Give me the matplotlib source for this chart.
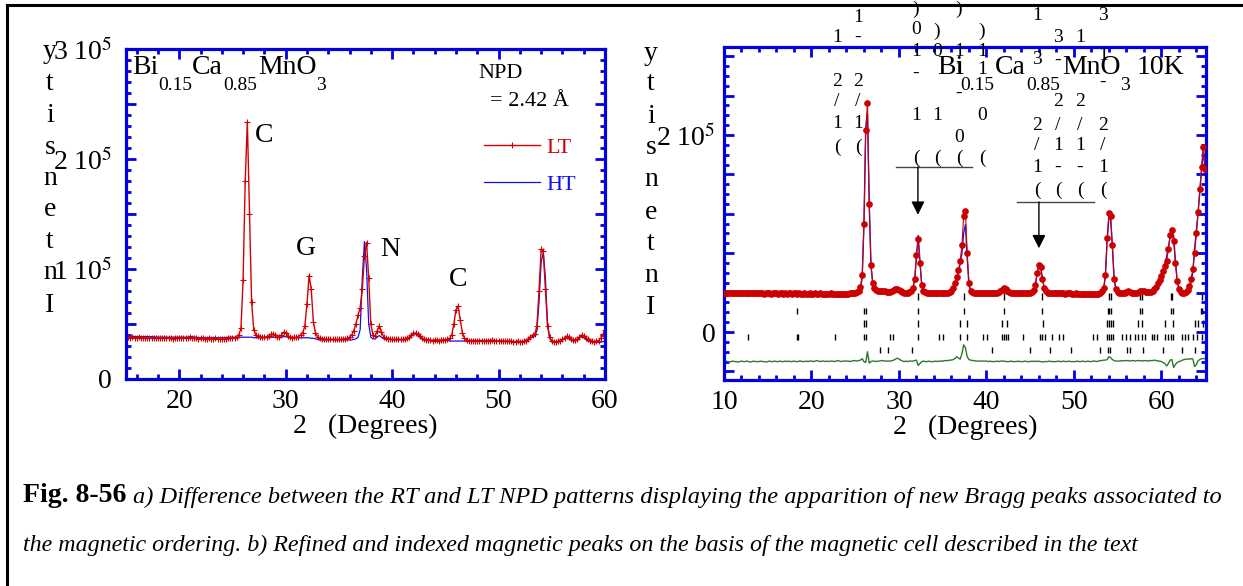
import numpy as np
import matplotlib
matplotlib.use('Agg')
import matplotlib.pyplot as plt
from matplotlib.lines import Line2D
from matplotlib.ticker import MultipleLocator, FixedLocator, FuncFormatter

plt.rcParams['font.family'] = ['Liberation Serif', 'DejaVu Serif']
plt.rcParams['mathtext.fontset'] = 'stix'

# ---- (a) LT / HT neutron patterns, counts in units of 1e3, 2theta step 0.2 deg ----
two_theta_a = np.linspace(15, 60, 226)
lt_counts = [
    38, 38, 37.5, 38, 37.5, 37.5, 38, 37.5, 37, 37.5,
    37.5, 37, 37.5, 37.5, 37, 37, 37.5, 37, 37, 37.5,
    37, 37, 36.5, 37, 37, 37.5, 37, 37, 37.5, 37.5,
    38, 37.5, 37, 37, 36.5, 37, 37, 36.5, 36.5, 37,
    36.5, 36.5, 37, 36.5, 36, 36.5, 36.5, 36.5, 37, 37,
    37, 37.5, 38, 40, 46, 90, 180, 234, 150, 70,
    45, 40, 39, 38.5, 38, 38, 38.5, 39, 40.5, 41,
    40, 38.5, 38, 40, 42.5, 42, 39.5, 38, 37.5, 38,
    38, 38.5, 40, 42, 48, 68, 94, 82, 52, 42,
    38.5, 37, 36.5, 36.5, 36, 36, 36.5, 36, 36, 36,
    36, 36, 36.5, 36.5, 37, 38, 40, 44, 50, 58,
    65, 82, 112, 124, 92, 50, 40, 39, 44, 48,
    43, 38.5, 37, 36.5, 36.5, 36, 36, 36, 36.5, 36,
    36, 36.5, 37, 38, 40, 41.5, 42, 41, 39, 37,
    36, 35.5, 35.5, 35.5, 35, 35.5, 35.5, 35, 35.5, 35.5,
    35.5, 36, 37, 40, 50, 63, 66, 54, 42, 37,
    35.5, 35, 35, 35, 35, 34.5, 35, 35, 34.5, 35,
    35, 35, 35.5, 35, 34.5, 34.5, 35, 34.5, 34.5, 34.5,
    34.5, 34.5, 34, 34, 34.5, 34, 34, 34.5, 35, 36.5,
    38.5, 40, 40.5, 48, 80, 118, 116, 82, 48, 38,
    35, 34, 34, 34.5, 35, 36, 37.5, 39, 38.5, 36.5,
    35.5, 35.5, 36.5, 38.5, 40, 39.5, 37.5, 36, 35, 34.5,
    34, 34.5, 35, 37, 40.5, 45,
]
ht_counts = [
    39, 39, 39, 39, 38.5, 38.5, 38.5, 38.5, 38.5, 38.5,
    38.5, 38.5, 38.5, 38.5, 38, 38, 38, 38, 38, 38,
    38, 38, 38, 38, 38, 38, 38, 38, 38, 38,
    38.5, 38.5, 38, 38, 37.5, 37.5, 37.5, 37.5, 37.5, 37.5,
    37.5, 37.5, 37.5, 37.5, 37.5, 37.5, 37.5, 37.5, 38, 38,
    38, 38, 38, 38, 38, 38, 38, 38, 38, 38,
    37.5, 37.5, 37.5, 37.5, 37.5, 37.5, 37.5, 37.5, 38, 38,
    38, 37.5, 37.5, 38, 38.5, 38.5, 38, 37.5, 37.5, 37.5,
    37.5, 37.5, 37.5, 37.5, 37.5, 37.5, 37.5, 37, 37, 36.5,
    36, 35.5, 35.5, 35.5, 35.5, 35.5, 35.5, 35.5, 35.5, 35.5,
    35.5, 35.5, 35.5, 35.5, 35.5, 35.5, 35.5, 36, 36.5, 38,
    45, 92, 125, 100, 50, 38, 36.5, 36.5, 38, 39.5,
    38, 36.5, 36, 36, 36, 35.5, 35.5, 35.5, 35.5, 35.5,
    35.5, 35.5, 36, 37, 39, 40.5, 41, 40, 38, 36.5,
    35.5, 35, 35, 35, 35, 35, 35, 35, 35, 35,
    35, 35, 34.5, 34.5, 34.5, 34.5, 34.5, 34.5, 34.5, 34.5,
    34.5, 34.5, 34.5, 34.5, 34.5, 34.5, 34.5, 34.5, 34.5, 34.5,
    34.5, 34.5, 34.5, 34.5, 34.5, 34.5, 34, 34, 34, 34,
    34, 34, 34, 34, 34, 34, 34, 34, 34.5, 35.5,
    37, 38.5, 39, 44, 70, 106, 115, 92, 50, 37,
    34, 33.5, 33.5, 34, 34.5, 35.5, 36.5, 37.5, 37, 35.5,
    34.5, 34.5, 35.5, 37.5, 38.5, 38, 36, 35, 34, 33.5,
    33.5, 33.5, 33.5, 33.5, 34, 34.5,
]
peak_tags = ['C', 'G', 'N', 'C']

# ---- (b) 10 K refinement: observed counts and residual (obs - calc), units of 1e3 ----
two_theta_b = np.linspace(10, 65, 276)
obs_counts = [
    40, 40, 39.5, 40, 40, 39.5, 40, 39.5, 39.5, 40,
    39.5, 40, 39.5, 39.5, 40, 39.5, 39.5, 39.5, 40, 39.5,
    39.5, 39.5, 39.5, 39, 39.5, 39.5, 39.5, 39, 39.5, 39.5,
    39.5, 39, 39.5, 39.5, 39, 39.5, 39, 39.5, 39.5, 39,
    39.5, 39.5, 39, 39.5, 39, 39, 39.5, 39, 39, 39.5,
    39, 39, 39.5, 39, 39, 39.5, 39, 39, 39, 39,
    39, 39.5, 39, 39, 39, 38.5, 39, 39, 39, 39,
    39, 39, 39.5, 39.5, 40, 40, 41, 42, 46, 58,
    110, 205, 232, 130, 68, 50, 45, 43, 42, 41.5,
    41.5, 42, 41.5, 41, 41, 41, 41.5, 42.5, 43.5, 44,
    43, 41.5, 40.5, 40, 40, 40, 40.5, 42, 45, 54,
    78, 94, 70, 48, 42, 40.5, 40, 39.5, 39.5, 39.5,
    39.5, 39.5, 39.5, 39.5, 39.5, 39.5, 39.5, 39.5, 40, 40.5,
    42, 45, 50, 56, 63, 72, 88, 118, 123, 80,
    50, 42, 40.5, 40, 39.5, 39.5, 39.5, 39.5, 39.5, 39.5,
    39.5, 39.5, 39.5, 39.5, 40, 40, 40, 40.5, 41.5, 43,
    44.5, 43.5, 41.5, 40.5, 40, 39.5, 39.5, 39.5, 39.5, 39.5,
    39.5, 39.5, 39.5, 39.5, 39.5, 40, 41, 43, 48, 60,
    68, 66, 54, 45, 41.5, 40, 39.5, 39.5, 39.5, 39.5,
    39.5, 39.5, 39.5, 39.5, 39.5, 39, 39.5, 39.5, 39.5, 39,
    39, 39.5, 39, 39, 39, 39, 39, 39, 38.5, 38.5,
    38.5, 38.5, 38.5, 38.5, 39, 40, 42, 45, 58, 95,
    121, 118, 88, 54, 44, 41, 40, 39.5, 39.5, 40,
    41, 41.5, 41, 40, 39.5, 39.5, 40, 41, 42, 42,
    41.5, 41, 40.5, 40.5, 41, 42, 43.5, 46, 50, 53,
    57, 62, 67, 72, 84, 98, 104, 92, 70, 52,
    44, 41, 40, 40, 41, 43, 47, 54, 64, 80,
    100, 122, 145, 168, 188, 165,
]
residual = [
    0, 0.5, 0, -0.5, 0, 0.5, 0, 0, -0.5, 0,
    0.5, 0, 0, 0.5, 0, -0.5, 0, 0.5, 0, 0,
    0, 0.5, 0, 0, -0.5, 0, 0.5, 0, 0, 0.5,
    0, 0, 0.5, 0, 0, 0.5, 0, 0.5, 0, 0,
    0.5, 0, 0, 0.5, 0.5, 0, 0, 0.5, 0, 0.5,
    0.5, 0, 0.5, 1, 0.5, 0, 0.5, 0.5, 0, 0.5,
    0, 0.5, 0.5, 0, 0.5, 1, 0.5, 0, 0.5, 0.5,
    0.5, 0.5, 0, 0.5, 1, 1, 0.5, 1, 1.5, 3,
    0, -1, 10, -1.5, 0, 0.5, 0.5, 0, 0.5, 0.5,
    1, 1, 0.5, 0.5, 0.5, 0.5, 1, 1.5, 2.5, 3.5,
    2.5, 1.5, 0.5, 0, 0.5, 0, 0.5, 0.5, 0.5, 1,
    1.5, -4, -2, 0, 0.5, 0, 0, 0.5, 0, 0,
    0, 0.5, 0, 0.5, 0.5, 0.5, 1, 1, 1, 1.5,
    1.5, 2, 3, 5, 3.5, 2.5, 8, 17, 14, 5,
    2, 1.5, 1, 1, 0.5, 0.5, 0.5, 0.5, 0.5, 0.5,
    0.5, 0, 0.5, 0, 0, 0, 0.5, 0, 0.5, 0.5,
    0.5, 0, 0, 0, 0.5, 0, 0, 0, 0.5, 0,
    0, 0, 0.5, 0, 0, 0, 0.5, 0, 0.5, 0,
    0.5, 0, -0.5, 0, 0, 0, 0.5, 0, 0, 0,
    0, 0.5, 0, 0, 0.5, 0, 0, 0.5, 0, 0,
    0, 0, 0.5, 0, 0, 0.5, 0, 0, 0.5, 0,
    0, 0.5, 0.5, 0, 0.5, 1, 1, 1.5, 1.5, 2,
    5, 4, 2, 1, 0.5, 0.5, 0.5, 1, 0.5, 1,
    1, 1, 0.5, 1, 1, 0.5, 1, 1, 1, 0.5,
    1, 1, 0.5, 1, 1, 1, 1.5, 1, 0.5, 0.5,
    0, -1, -2, -4.5, -2, 1.5, 2, -6, -3, -1,
    0, 0.5, 1.5, 2, 2.5, 2.5, 2.5, 3, 2.5, -5,
    -3, 1, 2, 3, 3, 3,
]
residual_offset = -30

# Bragg reflection positions (deg), one list per phase row
bragg_rows = [
    [32.2, 37.45, 42.0, 46.35, 54.0, 54.2, 57.55, 57.75, 61.1, 61.25, 64.6],
    [18.35, 26.0, 26.2, 32.2, 37.45, 42.0, 46.35, 53.85, 54.05, 54.25,
     57.55, 57.8, 61.1, 61.3, 64.5, 64.65],
    [26.0, 26.2, 32.2, 37.0, 37.8, 41.8, 42.35, 46.45, 53.8, 54.0, 54.25,
     54.45, 57.3, 57.8, 60.4, 61.3, 63.8, 64.2, 64.7],
    [12.75, 18.3, 18.45, 22.7, 26.0, 26.2, 29.0, 29.3, 32.2, 34.6, 35.0,
     37.0, 37.8, 39.6, 40.05, 41.8, 42.0, 42.2, 42.45, 44.2, 46.1, 46.35,
     46.7, 47.5, 48.3, 48.75, 52.2, 52.6, 53.8, 54.0, 54.25, 54.45, 55.5,
     55.95, 56.4, 57.0, 57.3, 57.8, 58.1, 58.9, 59.1, 59.5, 60.4, 60.8,
     61.1, 61.3, 62.3, 62.7, 63.0, 63.6, 64.05, 64.6],
    [27.8, 28.7, 31.5, 40.6, 45.0, 47.25, 49.65, 53.0, 53.9, 54.1, 56.05,
     56.4, 57.9, 60.2, 62.3, 63.8],
]
bragg_levels = [36.5, 21.3, 9.1, -5.1, -18.3]

# magnetic peaks pointed at in (b): (2theta, bar start, bar end, arrow top, arrow tip)
magnetic_arrows = [(32.17, 29.66, 38.34, 167.5, 119), (46.0, 43.49, 52.29, 132, 85)]

# stacked index labels above (b): column x, then (y, character) pairs
index_columns = [
    (837, [(37, '1'), (82, '2'), (102, '/'), (123, '1'), (147, '(')]),
    (858, [(17, '1'), (37, '-'), (82, '2'), (102, '/'), (123, '1'), (147, '(')]),
    (916, [(9, ')'), (29, '0'), (52, '1'), (73, '-'), (115, '1'), (158, '(')]),
    (937, [(31, ')'), (52, '0'), (115, '1'), (158, '(')]),
    (959, [(9, ')'), (52, '1'), (70, '1'), (93, '-'), (137, '0'), (158, '(')]),
    (982, [(31, ')'), (52, '1'), (70, '1'), (115, '0'), (158, '(')]),
    (1037, [(16, '1'), (60, '3'), (125, '2'), (145, '/'), (167, '1'), (190, '(')]),
    (1058, [(38, '3'), (60, '-'), (102, '2'), (125, '/'), (145, '1'), (167, '-'), (190, '(')]),
    (1080, [(38, '1'), (102, '2'), (125, '/'), (145, '1'), (167, '-'), (190, '(')]),
    (1103, [(16, '3'), (55, '1'), (82, '-'), (125, '2'), (145, '/'), (167, '1'), (190, '(')]),
]

W, H = 1243, 586
BLUE = '#0000e0'


def fx(x):
    return x / W


def fy(y):
    return 1 - y / H


def style_axes(ax, ylabels, pad_y):
    for s in ax.spines.values():
        s.set_color(BLUE)
        s.set_linewidth(2.3)
    ax.tick_params(which='both', direction='in', top=True, right=True,
                   color=BLUE, width=2, labelsize=20)
    ax.tick_params(which='major', length=7.5)
    ax.tick_params(which='minor', length=3.8)
    ax.tick_params(axis='y', pad=pad_y)
    ax.tick_params(axis='x', pad=7)
    ax.xaxis.set_major_locator(MultipleLocator(10))
    ax.xaxis.set_minor_locator(MultipleLocator(2))
    ax.yaxis.set_minor_locator(MultipleLocator(10e3))

    def fmt(v, pos):
        k = int(round(v / 1e5))
        if abs(v - k * 1e5) > 1 or k not in ylabels:
            return ''
        return '0' if k == 0 else f'{k} 10$^5$'
    ax.yaxis.set_major_formatter(FuncFormatter(fmt))
    ax.set_xlabel('2   (Degrees)', fontsize=20, labelpad=0)


def formula(x0, y0, pieces):
    # chemical formula with deep subscripts, laid out piece by piece
    for text, dx, sub in pieces:
        fig.text(fx(x0 + dx), fy(y0 + (18 if sub else 0)), text,
                 fontsize=14 if sub else 20, va='center', ha='left')


def stacked_label(x, ys):
    for y, ch in zip(ys, 'Intensity'):
        fig.text(fx(x), fy(y), ch, fontsize=20, ha='center', va='center')


fig = plt.figure(figsize=(12.43, 5.86), dpi=100)

# ---------------- panel (a) ----------------
ax1 = fig.add_axes([fx(126), fy(379), (605 - 126) / W, (379 - 49) / H])
ht_line, = ax1.plot(two_theta_a, np.array(ht_counts) * 1e3, color='#1010ee', lw=0.9, label='HT')
lt_line, = ax1.plot(two_theta_a, np.array(lt_counts) * 1e3, color='#d40000', lw=1.0,
                    marker='+', ms=4, mew=0.8, label='LT')
ax1.set_xlim(15, 60)
ax1.set_ylim(0, 3e5)
ax1.yaxis.set_major_locator(FixedLocator(np.arange(0, 3.01e5, 0.5e5)))
style_axes(ax1, {0, 1, 2, 3}, 10)

for tag, (x, y) in zip(peak_tags, [(264, 135), (306, 248), (390, 250), (458, 280)]):
    fig.text(fx(x), fy(y), tag, fontsize=20, ha='center', va='center')

formula(132, 68, [('Bi', 0, False), ('0.15', 26, True), ('Ca', 60, False),
                  ('0.85', 91, True), ('MnO', 126, False), ('3', 184, True)])
fig.text(fx(478), fy(73), 'NPD', fontsize=16, va='center')
fig.text(fx(490), fy(102), '= 2.42 Å', fontsize=16, va='center')
ax1.legend(handles=[lt_line, ht_line], loc='center left', frameon=False,
           bbox_to_anchor=(fx(484), fy(166)), bbox_transform=fig.transFigure,
           fontsize=16, handlelength=2.5, handletextpad=0.3, labelspacing=0.75,
           borderpad=0, borderaxespad=0, labelcolor='linecolor', numpoints=1)
stacked_label(50, [305, 273, 242, 210, 178, 147, 115, 84, 52])

# ---------------- panel (b) ----------------
ax2 = fig.add_axes([fx(724), fy(380), (1206 - 724) / W, (380 - 47) / H])
obs = np.array(obs_counts)
res = np.array(residual)
calc = obs - res
ax2.plot(two_theta_b, calc * 1e3, color='#1a1aee', lw=1.0, zorder=2)
ax2.plot(two_theta_b, obs * 1e3, color='#cc0000', lw=0.8, marker='o', ms=3.8,
         mec='#cc0000', mfc='#cc0000', zorder=3)
ax2.plot(two_theta_b, (res + residual_offset) * 1e3, color='#2b7a2b', lw=1.0, zorder=2)
for row, level in zip(bragg_rows, bragg_levels):
    ax2.vlines(row, (level - 3.5) * 1e3, (level + 3.5) * 1e3, color='black', lw=1.0, zorder=1)

for x, x_a, x_b, y_top, y_tip in magnetic_arrows:
    ax2.plot([x_a, x_b], [y_top * 1e3, y_top * 1e3], color='#444444', lw=1.0)
    ax2.annotate('', xy=(x, y_tip * 1e3), xytext=(x, y_top * 1e3),
                 arrowprops=dict(arrowstyle='-|>', color='black', lw=1.0,
                                 mutation_scale=20, shrinkA=0, shrinkB=0))

ax2.set_xlim(10, 65.1)
ax2.set_ylim(-0.487e5, 2.893e5)
ax2.yaxis.set_major_locator(FixedLocator(np.arange(-0.4e5, 2.9e5, 0.4e5)))
style_axes(ax2, {0, 2}, 6)
stacked_label(651, [307, 276, 244, 212, 180, 148, 116, 84, 53])

formula(937, 68, [('Bi', 0, False), ('0.15', 23, True), ('Ca', 58, False),
                  ('0.85', 89, True), ('MnO', 125, False), ('3', 183, True),
                  ('10K', 200, False)])
for x, chars in index_columns:
    for y, ch in chars:
        fig.text(fx(x), fy(y), ch, fontsize=14, ha='center', va='center')

# ---------------- frame and caption ----------------
fig.add_artist(Line2D([fx(7), 1], [fy(5), fy(5)], color='black', lw=2.2))
fig.add_artist(Line2D([fx(7), fx(7)], [fy(5), 0], color='black', lw=2.2))
fig.text(fx(23), fy(496), 'Fig. 8-56', fontsize=20, weight='bold', va='center')
fig.text(fx(133), fy(497),
         'a) Difference between the RT and LT NPD patterns displaying the apparition '
         'of new Bragg peaks associated to', fontsize=17.6, style='italic', va='center')
fig.text(fx(23), fy(545),
         'the magnetic ordering. b) Refined and indexed magnetic peaks on the basis '
         'of the magnetic cell described in the text', fontsize=17.3, style='italic',
         va='center')

fig.savefig('out.png', dpi=100)
